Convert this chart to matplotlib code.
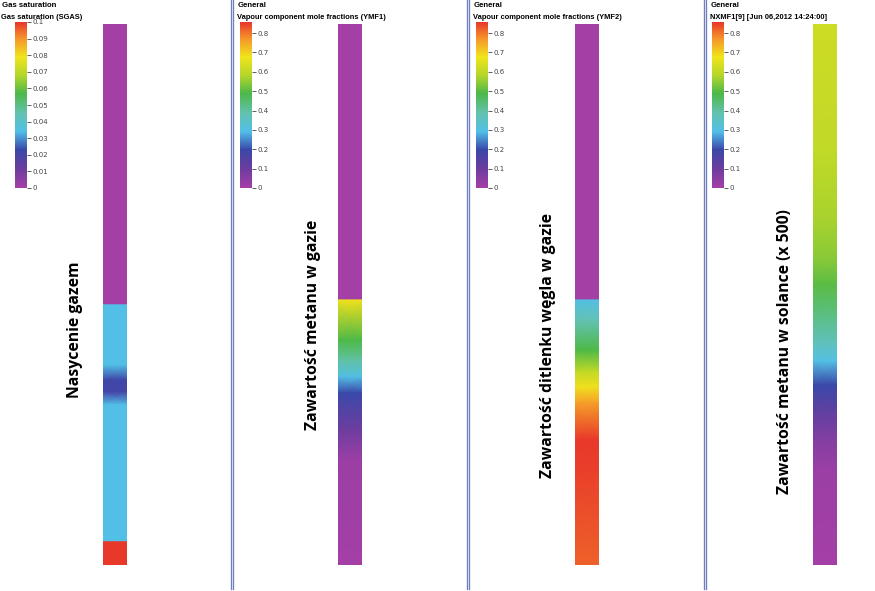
import numpy as np
import matplotlib.pyplot as plt
from matplotlib.colors import LinearSegmentedColormap, Normalize
from matplotlib.cm import ScalarMappable
from matplotlib.lines import Line2D

#%% Data

# colour scale (Petrel-like rainbow)
cmap_pos = [0.0, 0.12, 0.23, 0.34, 0.45, 0.57, 0.68, 0.79, 0.90, 1.0]
cmap_col = ['#a43fa6', '#6a3d9e', '#3a48a8', '#52bfe8', '#63c2b0',
            '#4cb848', '#b5d62a', '#f0e41c', '#f5962a', '#e8382a']

titles = ["Gas saturation", "General", "General", "General"]
subtitles = ["Gas saturation (SGAS)",
             "Vapour component mole fractions (YMF1)",
             "Vapour component mole fractions (YMF2)",
             "NXMF1[9] [Jun 06,2012 14:24:00]"]
labels = ["Nasycenie gazem",
          "Zawartość metanu w gazie",
          "Zawartość ditlenku węgla w gazie",
          "Zawartość metanu w solance (x 500)"]

vmax = [0.1, 0.857, 0.857, 0.857]
ticks_1 = [0, 0.01, 0.02, 0.03, 0.04, 0.05, 0.06, 0.07, 0.08, 0.09, 0.1]
ticklabels_1 = ["0", "0.01", "0.02", "0.03", "0.04", "0.05", "0.06", "0.07", "0.08", "0.09", "0.1"]
ticks_2 = [0, 0.1, 0.2, 0.3, 0.4, 0.5, 0.6, 0.7, 0.8]
ticklabels_2 = ["0", "0.1", "0.2", "0.3", "0.4", "0.5", "0.6", "0.7", "0.8"]

# vertical profiles: depth (% of column, top = 0) and value
depth_sgas = [0, 51.9, 51.9, 63.0, 65.8, 68.0, 70.4, 95.7, 95.7, 100]
val_sgas   = [0, 0, 0.034, 0.034, 0.022, 0.021, 0.034, 0.034, 0.1, 0.1]

depth_ymf1 = [0, 51.0, 51.0, 58.4, 62.1, 65.2, 68.2, 75.0, 80.6, 100]
val_ymf1   = [0, 0, 0.68, 0.49, 0.40, 0.30, 0.20, 0.10, 0.02, 0.0]

depth_ymf2 = [0, 51.0, 51.0, 54.7, 60.3, 64.3, 67.1, 70.1, 76.9, 82.4, 100]
val_ymf2   = [0, 0, 0.30, 0.38, 0.49, 0.60, 0.68, 0.76, 0.857, 0.85, 0.82]

depth_nxmf = [0, 23.3, 36.2, 43.6, 48.2, 54.7, 59.3, 62.3, 66.7, 71.3, 76.9, 82.4, 100]
val_nxmf   = [0.62, 0.60, 0.57, 0.54, 0.50, 0.42, 0.36, 0.30, 0.20, 0.13, 0.06, 0.02, 0.0]

profiles = [(depth_sgas, val_sgas), (depth_ymf1, val_ymf1),
            (depth_ymf2, val_ymf2), (depth_nxmf, val_nxmf)]

#%% Layout (pixels)
W, H = 875, 591
panel_x = [0, 236, 472, 709]
col_x = [103, 338, 575, 813]
col_w = 24
col_top, col_bot = 24, 565
cbar_x = [15, 240, 476, 712]
cbar_w = 12
cbar_top, cbar_bot = 22, 188
label_x = [75, 313, 548, 785]
label_y = [330, 325, 345, 352]
sep_x = [232, 468, 705]

cmap = LinearSegmentedColormap.from_list("petrel", list(zip(cmap_pos, cmap_col)))

fig = plt.figure(figsize=(W / 100, H / 100), dpi=100)
fig.patch.set_facecolor('white')


def px_rect(x, y0, w, y1):
    return [x / W, 1 - y1 / H, w / W, (y1 - y0) / H]


for i in range(4):
    norm = Normalize(0, vmax[i])
    d, v = profiles[i]
    d = np.array(d)
    v = np.array(v)

    # column
    ax = fig.add_axes(px_rect(col_x[i], col_top, col_w, col_bot))
    X = np.tile([0.0, 1.0], (len(d), 1))
    Y = np.column_stack([d, d])
    C = np.column_stack([v, v])
    ax.pcolormesh(X, Y, C, cmap=cmap, norm=norm, shading='gouraud')
    ax.set_xlim(0, 1)
    ax.set_ylim(100, 0)
    ax.axis('off')

    # colorbar
    cax = fig.add_axes(px_rect(cbar_x[i], cbar_top, cbar_w, cbar_bot))
    cb = fig.colorbar(ScalarMappable(norm=norm, cmap=cmap), cax=cax)
    cb.outline.set_visible(False)
    if i == 0:
        cb.set_ticks(ticks_1, labels=ticklabels_1)
    else:
        cb.set_ticks(ticks_2, labels=ticklabels_2)
    cax.tick_params(length=3, width=0.6, pad=1, labelsize=5,
                    colors='#444444', direction='out')

    # titles
    fig.text((panel_x[i] + 2) / W, 1 - 2 / H, titles[i], ha='left', va='top',
             fontsize=5.6, fontweight='bold', family='Liberation Sans')
    fig.text((panel_x[i] + 1) / W, 1 - 14 / H, subtitles[i], ha='left', va='top',
             fontsize=5.4, fontweight='bold', family='Liberation Sans')

    # rotated label
    fig.text(label_x[i] / W, 1 - label_y[i] / H, labels[i], rotation=90,
             ha='center', va='center', fontsize=11.3, fontweight='bold',
             family='Open Sans', color='black')

# panel separators (double line)
for sx in sep_x:
    for dx in (-1.4, 1.4):
        fig.add_artist(Line2D([(sx + dx) / W] * 2, [2 / H, 1],
                              color='#6f80c2', lw=0.95))

fig.savefig('out.png', dpi=100, facecolor='white')
